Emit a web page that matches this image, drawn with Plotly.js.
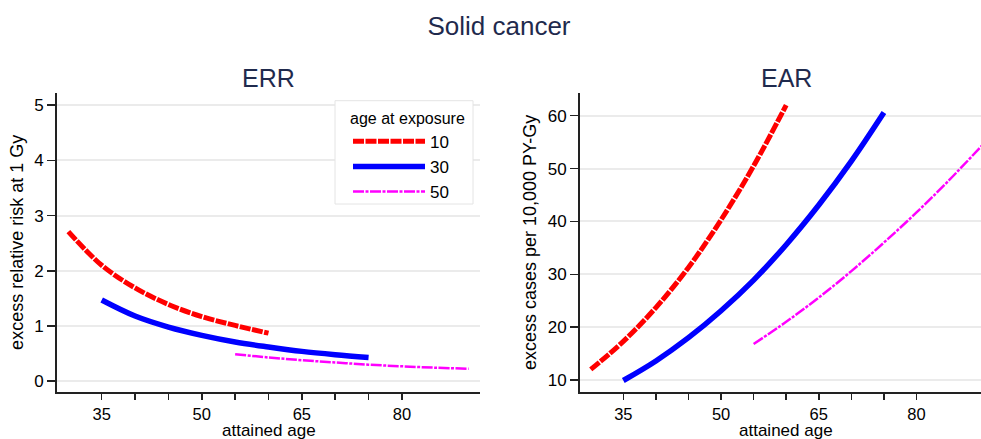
<!DOCTYPE html>
<html>
<head>
<meta charset="utf-8">
<script src="https://cdn.plot.ly/plotly-3.0.1.min.js"></script>
<style>html,body{margin:0;padding:0;background:#fff;overflow:hidden;}#chart{width:981px;height:439px;}</style>
</head>
<body>
<div id="chart"></div>
<script>
// attained ages (years)
const age10 = [30, 35, 40, 45, 50, 55, 60];
const age30 = [35, 40, 45, 50, 55, 60, 65, 70, 75];
const age50 = [55, 60, 65, 70, 75, 80, 85, 90];

// ERR at 1 Gy, by age at exposure
const err10 = [2.71, 2.10, 1.69, 1.39, 1.17, 1.01, 0.87];
const err30 = [1.47, 1.18, 0.98, 0.83, 0.71, 0.62, 0.54, 0.48, 0.43];
const err50 = [0.49, 0.43, 0.38, 0.34, 0.30, 0.27, 0.245, 0.225];

// EAR per 10,000 PY-Gy, by age at exposure
const ear10 = [12.0, 17.3, 23.7, 31.3, 40.3, 50.5, 62.0];
const ear30 = [9.9, 13.6, 18.0, 23.1, 28.9, 35.6, 43.1, 51.4, 60.6];
const ear50 = [16.8, 21.0, 25.6, 30.6, 36.0, 41.7, 47.8, 54.3];

const groupNames = ["10", "30", "50"];
const xTickVals = [35, 40, 45, 50, 55, 60, 65, 70, 75, 80];
const xTickText = ["35", "", "", "50", "", "", "65", "", "", "80"];

const FONT = "Liberation Sans, Arial, Helvetica, sans-serif";
const TITLE_COLOR = "#1f2a4d";
const styles = [
  {color: "#ff0000", width: 5, dash: "11px,1.5px"},
  {color: "#0000ff", width: 5.5, dash: "solid"},
  {color: "#ff00ff", width: 2.5, dash: "11px,1.5px,3px,1.5px"}
];

const ages = [age10, age30, age50];
const errs = [err10, err30, err50];
const ears = [ear10, ear30, ear50];

const traces = [];
for (let i = 0; i < 3; i++) {
  traces.push({
    x: ages[i], y: errs[i], type: "scatter", mode: "lines",
    name: groupNames[i], line: Object.assign({shape: "spline"}, styles[i]),
    xaxis: "x", yaxis: "y", showlegend: true, hoverinfo: "x+y"
  });
}
for (let i = 0; i < 3; i++) {
  traces.push({
    x: ages[i], y: ears[i], type: "scatter", mode: "lines",
    name: groupNames[i], line: Object.assign({shape: "spline"}, styles[i]),
    xaxis: "x2", yaxis: "y2", showlegend: false, hoverinfo: "x+y"
  });
}

const W = 981, H = 439;
function xAxis(domain, range) {
  return {
    domain: domain, range: range, tickvals: xTickVals, ticktext: xTickText,
    ticks: "outside", ticklen: 6, tickwidth: 1.5, tickcolor: "#222",
    showline: true, linecolor: "#222", linewidth: 2,
    showgrid: false, zeroline: false,
    tickfont: {family: FONT, size: 16.5, color: "#000"},
    automargin: false
  };
}
function yAxis(range, dtick, title, anchor) {
  return {
    domain: [(H - 391.7) / H, (H - 93) / H], range: range, dtick: dtick, anchor: anchor,
    ticks: "outside", ticklen: 8, tickwidth: 1.5, tickcolor: "#222",
    showline: true, linecolor: "#222", linewidth: 2,
    showgrid: true, gridcolor: "#ebebeb", gridwidth: 2, zeroline: false,
    tickfont: {family: FONT, size: 17, color: "#000"},
    title: {text: title, font: {family: FONT, size: 18, color: "#000"}, standoff: 6},
    automargin: false
  };
}

const layout = {
  width: W, height: H,
  margin: {l: 0, r: 0, t: 0, b: 0},
  paper_bgcolor: "#fff", plot_bgcolor: "#fff",
  font: {family: FONT, color: "#000"},
  title: {text: "Solid cancer", x: 499 / W, xanchor: "center", y: 1 - 26 / H, yanchor: "middle",
          font: {family: FONT, size: 26, color: TITLE_COLOR}},
  xaxis: Object.assign(xAxis([57 / W, 480 / W], [28.3, 91.7]), {anchor: "y"}),
  yaxis: yAxis([-0.19, 5.22], 1, "excess relative risk at 1 Gy", "x"),
  xaxis2: Object.assign(xAxis([580 / W, 1], [28.35, 89.9]), {anchor: "y2"}),
  yaxis2: yAxis([7.78, 64.3], 10, "excess cases per 10,000 PY-Gy", "x2"),
  showlegend: true,
  legend: {
    x: 348 / W, xanchor: "left", y: 1 - 103 / H, yanchor: "top",
    bgcolor: "rgba(255,255,255,0)", borderwidth: 0,
    font: {family: FONT, size: 17, color: "#000"},
    title: {text: "age at exposure", side: "top center", font: {family: FONT, size: 16, color: "#000"}},
    itemwidth: 72, tracegroupgap: 0
  },
  shapes: [
    {type: "rect", xref: "paper", yref: "paper", layer: "above",
     x0: 335 / W, x1: 473 / W, y0: 1 - 204 / H, y1: 1 - 100.7 / H,
     fillcolor: "#ffffff", line: {color: "#e4e4e4", width: 1}}
  ],
  annotations: [
    {text: "ERR", xref: "paper", yref: "paper", x: 268 / W, y: 1 - 78 / H, xanchor: "center", yanchor: "middle",
     showarrow: false, font: {family: FONT, size: 25, color: TITLE_COLOR}},
    {text: "EAR", xref: "paper", yref: "paper", x: 786.5 / W, y: 1 - 78 / H, xanchor: "center", yanchor: "middle",
     showarrow: false, font: {family: FONT, size: 25, color: TITLE_COLOR}},
    {text: "attained age", xref: "paper", yref: "paper", x: 268.5 / W, y: 1 - 418.5 / H, xanchor: "center", yanchor: "top",
     showarrow: false, font: {family: FONT, size: 17, color: "#000"}},
    {text: "attained age", xref: "paper", yref: "paper", x: 786 / W, y: 1 - 418.5 / H, xanchor: "center", yanchor: "top",
     showarrow: false, font: {family: FONT, size: 17, color: "#000"}}
  ]
};

Plotly.newPlot("chart", traces, layout, {displayModeBar: false, responsive: false, staticPlot: true});
</script>
</body>
</html>
